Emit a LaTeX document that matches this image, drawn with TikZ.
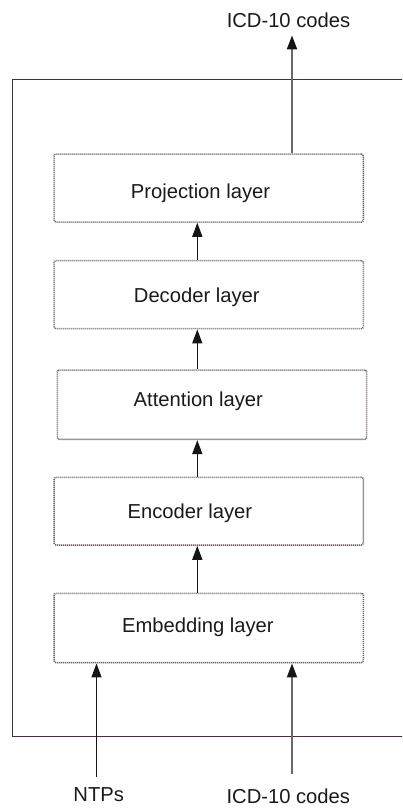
\documentclass[tikz,border=0pt]{standalone}
\usepackage{fontspec}
\setmainfont{Liberation Sans}
\usetikzlibrary{arrows.meta}
\definecolor{frameclr}{HTML}{4B2C42}
\definecolor{dotclr}{HTML}{6E5868}
\definecolor{darkarrow}{HTML}{151515}
\definecolor{greyarrow}{HTML}{6A6A6A}
\definecolor{textclr}{HTML}{1A1A1A}
\tikzset{
  layerbox/.style={draw=dotclr, line width=1.5pt, dash pattern=on 1.1pt off 0.9pt,
    rounded corners=2pt, minimum width=309.3pt, minimum height=68pt, inner sep=0pt},
  lbl/.style={inner sep=0pt, text height=14.4pt, text depth=0pt, text=textclr,
    font=\fontsize{20.2pt}{24pt}\selectfont},
  iolbl/.style={inner sep=0pt, anchor=base, text=textclr, font=\fontsize{20.2pt}{24pt}\selectfont},
  flow/.style={draw=darkarrow, line width=1.4pt, -{Triangle[length=14pt,width=10pt,color=darkarrow]}},
  greyflow/.style={draw=greyarrow, line width=2pt, -{Triangle[length=14pt,width=10pt,color=darkarrow]}},
}
\begin{document}
\begin{tikzpicture}[x=1pt, y=-1pt]
  \clip (0,0) rectangle (402,808);
  \fill[white] (0,0) rectangle (402,808);

  % model frame (right side runs past the page edge)
  \draw[frameclr, line width=1.3pt] (12.5,79.5) rectangle (440,736.5);

  % stacked layers
  \node[layerbox, minimum height=68pt,
        label={[lbl, xshift=-8.2pt, yshift=-2.8pt]center:Projection layer}]
        (proj) at (208.7,188) {};
  \node[layerbox, minimum height=68pt,
        label={[lbl, xshift=-11.9pt, yshift=-0.8pt]center:Decoder layer}]
        (dec) at (208.7,294.7) {};
  \node[layerbox, minimum width=309.4pt, minimum height=69.3pt,
        label={[lbl, xshift=-13.7pt, yshift=5.7pt]center:Attention layer}]
        (att) at (212,404.7) {};
  \node[layerbox, minimum height=67.7pt,
        label={[lbl, xshift=-18.8pt, yshift=0.2pt]center:Encoder layer}]
        (enc) at (208.7,511.2) {};
  \node[layerbox, minimum height=69.4pt,
        label={[lbl, xshift=-10.8pt, yshift=2.5pt]center:Embedding layer}]
        (emb) at (208.7,628) {};

  % inputs and output labels
  \node[iolbl] (out) at (288.5,27.3) {ICD-10 codes};
  \node[iolbl] (ntp) at (98.7,801) {NTPs};
  \node[iolbl] (icd) at (288.3,803.3) {ICD-10 codes};

  % arrow columns
  \coordinate (midcol) at (197.3,0);
  \coordinate (leftcol) at (96.5,0);
  \coordinate (rightcol) at (292,0);

  % flow between layers
  \draw[flow] (emb.north -| midcol) -- (enc.south -| midcol);
  \draw[flow] (enc.north -| midcol) -- (att.south -| midcol);
  \draw[flow] (att.north -| midcol) -- (dec.south -| midcol);
  \draw[flow] (dec.north -| midcol) -- (proj.south -| midcol);

  % output
  \draw[greyflow, shorten >=7.7pt] (proj.north -| rightcol) -- (out.south -| rightcol);

  % inputs
  \draw[flow, shorten <=9.7pt] (ntp.north -| leftcol) -- (emb.south -| leftcol);
  \draw[greyflow, shorten <=14.3pt] (icd.north -| rightcol) -- (emb.south -| rightcol);
\end{tikzpicture}
\end{document}
